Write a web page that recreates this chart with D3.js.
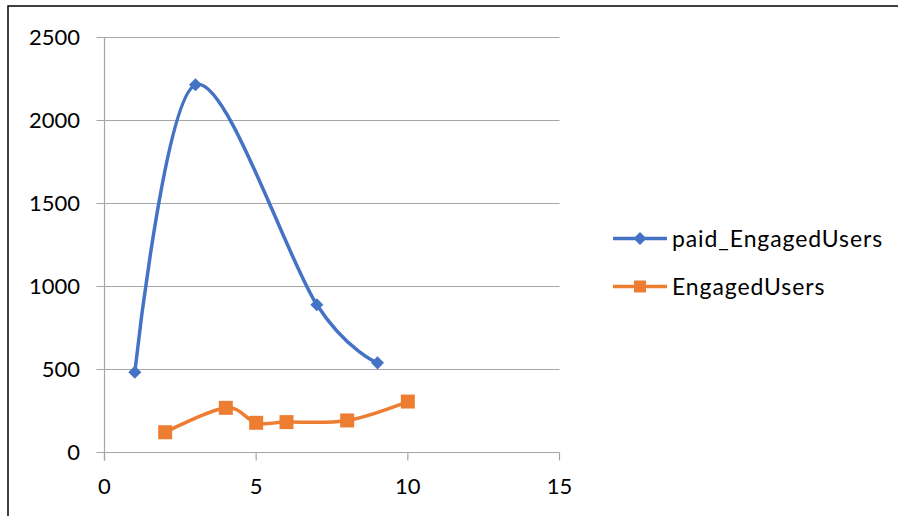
<!DOCTYPE html>
<html>
<head>
<meta charset="utf-8">
<script src="https://cdn.jsdelivr.net/npm/d3@7"></script>
<style>
  html, body { margin: 0; padding: 0; background: #fff; }
  svg { display: block; font-family: Lato, "Open Sans", sans-serif; }
</style>
</head>
<body>
<svg id="chart" width="898" height="516"></svg>
<script>
// Series data (x, y) pairs
const paidX = [1, 3, 7, 9];
const paidY = [484, 2215, 890, 540];
const engagedX = [2, 4, 5, 6, 8, 10];
const engagedY = [122, 269, 179, 183, 193, 307];

const seriesNames = ["paid_EngagedUsers", "EngagedUsers"];
const seriesColors = ["#4472C4", "#ED7D31"];

const xTicks = [0, 5, 10, 15];
const yTicks = [0, 500, 1000, 1500, 2000, 2500];

const svg = d3.select("#chart");

// Outer chart frame
svg.append("rect")
  .attr("x", 8).attr("y", 6)
  .attr("width", 1000).attr("height", 600)
  .attr("fill", "#fff")
  .attr("stroke", "#000").attr("stroke-width", 1.5);

const x = d3.scaleLinear().domain([0, 15]).range([104.5, 559.5]);
const y = d3.scaleLinear().domain([0, 2500]).range([452.5, 37.5]);

// Horizontal gridlines
svg.append("g")
  .selectAll("line")
  .data(yTicks)
  .join("line")
  .attr("x1", x(0) - 8).attr("x2", x(15))
  .attr("y1", d => y(d)).attr("y2", d => y(d))
  .attr("stroke", "#a6a6a6").attr("stroke-width", 1.2);

// Vertical axis line
svg.append("line")
  .attr("x1", x(0)).attr("x2", x(0))
  .attr("y1", y(2500)).attr("y2", y(0) + 8)
  .attr("stroke", "#a6a6a6").attr("stroke-width", 1.2);

// Horizontal-axis tick marks
svg.append("g")
  .selectAll("line")
  .data(xTicks)
  .join("line")
  .attr("x1", d => x(d)).attr("x2", d => x(d))
  .attr("y1", y(0)).attr("y2", y(0) + 8)
  .attr("stroke", "#a6a6a6").attr("stroke-width", 1.2);

// Tick labels
svg.append("g")
  .selectAll("text")
  .data(yTicks)
  .join("text")
  .attr("x", 80).attr("y", d => y(d))
  .attr("dy", "0.36em")
  .attr("text-anchor", "end")
  .attr("font-size", 22)
  .attr("fill", "#000")
  .text(d => d);

svg.append("g")
  .selectAll("text")
  .data(xTicks)
  .join("text")
  .attr("x", d => x(d)).attr("y", 486)
  .attr("dy", "0.36em")
  .attr("text-anchor", "middle")
  .attr("font-size", 22)
  .attr("fill", "#000")
  .text(d => d);

const line = d3.line()
  .x(d => x(d[0])).y(d => y(d[1]))
  .curve(d3.curveCatmullRom.alpha(0));

const paid = paidX.map((v, i) => [v, paidY[i]]);
const engaged = engagedX.map((v, i) => [v, engagedY[i]]);

const diamond = d3.symbol().type(d3.symbolSquare).size(85);
const square = d3.symbol().type(d3.symbolSquare).size(196);
const legendSquare = d3.symbol().type(d3.symbolSquare).size(144);

// paid_EngagedUsers line + diamond markers
svg.append("path")
  .attr("d", line(paid))
  .attr("fill", "none")
  .attr("stroke", seriesColors[0]).attr("stroke-width", 3.5)
  .attr("stroke-linecap", "round");
svg.append("g")
  .selectAll("path")
  .data(paid)
  .join("path")
  .attr("d", diamond)
  .attr("transform", d => `translate(${x(d[0])},${y(d[1])}) rotate(45)`)
  .attr("fill", seriesColors[0]);

// EngagedUsers line + square markers
svg.append("path")
  .attr("d", line(engaged))
  .attr("fill", "none")
  .attr("stroke", seriesColors[1]).attr("stroke-width", 3.5)
  .attr("stroke-linecap", "round");
svg.append("g")
  .selectAll("path")
  .data(engaged)
  .join("path")
  .attr("d", square)
  .attr("transform", d => `translate(${x(d[0])},${y(d[1])})`)
  .attr("fill", seriesColors[1]);

// Legend
const legendY = [238.5, 286.5];
const legend = svg.append("g")
  .selectAll("g")
  .data(seriesNames)
  .join("g")
  .attr("transform", (d, i) => `translate(613,${legendY[i]})`);
legend.append("line")
  .attr("x1", 0).attr("x2", 54)
  .attr("stroke", (d, i) => seriesColors[i]).attr("stroke-width", 3.5);
legend.append("path")
  .attr("d", (d, i) => i === 0 ? diamond() : legendSquare())
  .attr("transform", (d, i) => i === 0 ? "translate(27,0) rotate(45)" : "translate(27,0)")
  .attr("fill", (d, i) => seriesColors[i]);
legend.append("text")
  .attr("x", 59).attr("dy", "0.36em")
  .attr("font-size", 23)
  .attr("letter-spacing", "0.9px")
  .attr("fill", "#000")
  .text(d => d);
</script>
</body>
</html>
